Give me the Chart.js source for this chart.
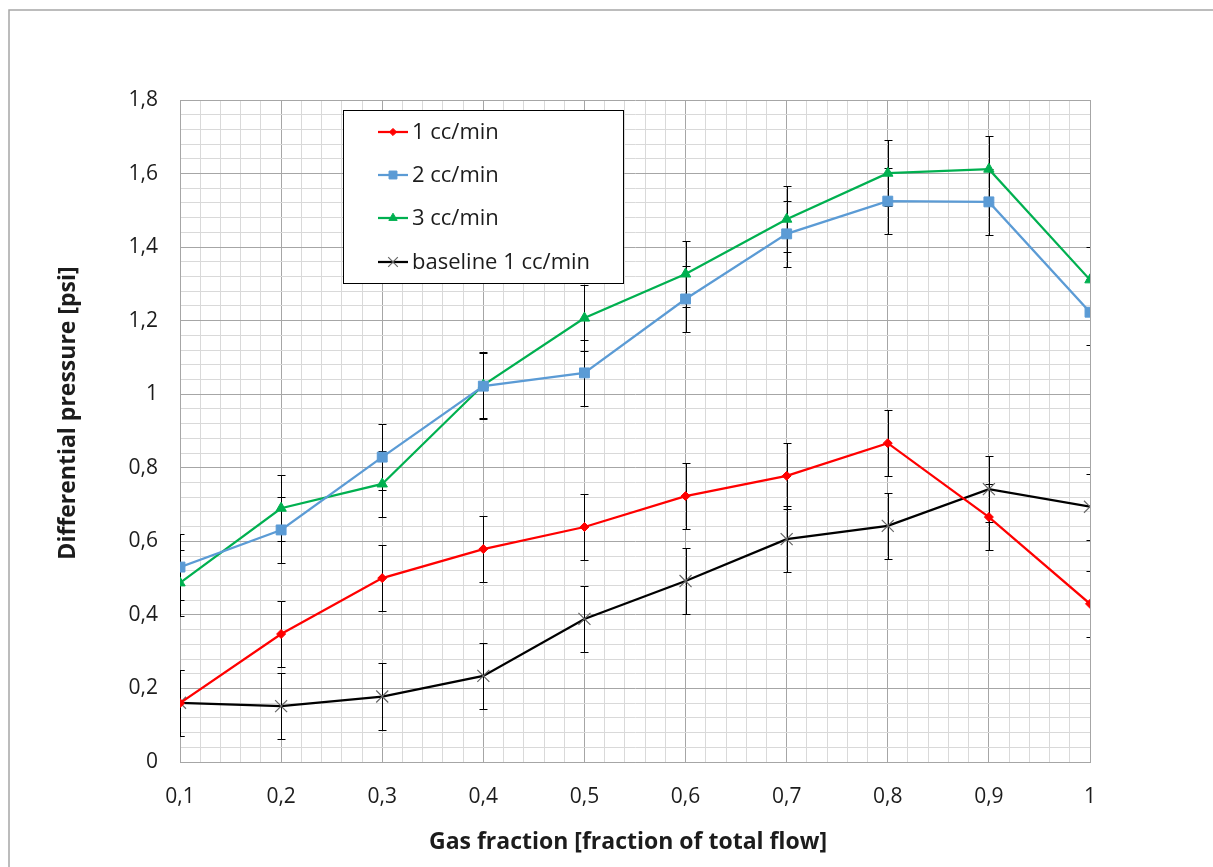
<!DOCTYPE html>
<html>
<head>
<meta charset="utf-8">
<script src="https://cdn.jsdelivr.net/npm/chart.js@4.4.1/dist/chart.umd.min.js"></script>
<style>
  html, body { margin: 0; padding: 0; background: #ffffff; }
  #wrap { width: 1213px; height: 867px; position: relative; }
</style>
</head>
<body>
<div id="wrap"><canvas id="c" width="1213" height="867"></canvas></div>
<script>
// ---- data ----
const gasFraction = [0.1, 0.2, 0.3, 0.4, 0.5, 0.6, 0.7, 0.8, 0.9, 1.0];
const seriesNames = ['1 cc/min', '2 cc/min', '3 cc/min', 'baseline 1 cc/min'];
const flow1 = [0.160, 0.348, 0.500, 0.579, 0.639, 0.723, 0.778, 0.867, 0.666, 0.430];
const flow2 = [0.530, 0.631, 0.829, 1.022, 1.058, 1.259, 1.436, 1.525, 1.523, 1.223];
const flow3 = [0.487, 0.690, 0.756, 1.025, 1.207, 1.327, 1.476, 1.601, 1.612, 1.311];
const baseline1 = [0.161, 0.152, 0.178, 0.234, 0.389, 0.492, 0.606, 0.642, 0.742, 0.694];
const err1 = [0.09, 0.09, 0.09, 0.09, 0.09, 0.09, 0.09, 0.09, 0.09, 0.09];
const err2 = [0.09, 0.09, 0.09, 0.09, 0.09, 0.09, 0.09, 0.09, 0.09, 0.09];
const err3 = [0.09, 0.09, 0.09, 0.09, 0.09, 0.09, 0.09, 0.09, 0.09, 0.09];
const errBase = [0.09, 0.09, 0.09, 0.09, 0.09, 0.09, 0.09, 0.09, 0.09, 0.09];
const xTickLabels = ['0,1', '0,2', '0,3', '0,4', '0,5', '0,6', '0,7', '0,8', '0,9', '1'];
const yTickLabels = ['0', '0,2', '0,4', '0,6', '0,8', '1', '1,2', '1,4', '1,6', '1,8'];
const xTitle = 'Gas fraction [fraction of total flow]';
const yTitle = 'Differential pressure [psi]';

const FONT = '"Open Sans", Lato, sans-serif';
const TEXT = '#1c1c1c';

function pts(ys) { return gasFraction.map((x, i) => ({ x: x, y: ys[i] })); }

const datasets = [
  { label: seriesNames[0], data: pts(flow1), errs: err1, borderColor: '#ff0000', backgroundColor: '#ff0000',
    pointStyle: 'rectRot', pointRadius: 4.5, pointBorderColor: '#ff0000', pointBackgroundColor: '#ff0000' },
  { label: seriesNames[1], data: pts(flow2), errs: err2, borderColor: '#5b9bd5', backgroundColor: '#5b9bd5',
    pointStyle: 'rect', pointRadius: 7, pointBorderColor: '#5b9bd5', pointBackgroundColor: '#5b9bd5' },
  { label: seriesNames[2], data: pts(flow3), errs: err3, borderColor: '#00b050', backgroundColor: '#00b050',
    pointStyle: 'triangle', pointRadius: 6, pointBorderColor: '#00b050', pointBackgroundColor: '#00b050' },
  { label: seriesNames[3], data: pts(baseline1), errs: errBase, borderColor: '#000000', backgroundColor: '#000000',
    pointStyle: 'crossRot', pointRadius: 8.5, pointBorderColor: '#666666', pointBackgroundColor: '#666666', pointBorderWidth: 1.2 }
];
datasets.forEach(d => { d.borderWidth = 2.25; d.tension = 0; d.fill = false; if (!d.pointBorderWidth) d.pointBorderWidth = 1; });

function isMultiple(v, step) { const q = v / step; return Math.abs(q - Math.round(q)) < 1e-6; }

const errorBars = {
  id: 'errorBars',
  beforeDatasetsDraw(chart) {
    const { ctx, chartArea: a, scales: { x, y } } = chart;
    ctx.save();
    ctx.beginPath();
    ctx.rect(a.left, a.top, a.right - a.left, a.bottom - a.top);
    ctx.clip();
    ctx.strokeStyle = '#000000';
    ctx.lineWidth = 1;
    chart.data.datasets.forEach(ds => {
      ds.data.forEach((p, i) => {
        const e = ds.errs[i];
        const px = Math.round(x.getPixelForValue(p.x)) + 0.5;
        const yt = Math.round(y.getPixelForValue(p.y + e)) + 0.5;
        const yb = Math.round(y.getPixelForValue(p.y - e)) + 0.5;
        ctx.beginPath();
        ctx.moveTo(px, yt); ctx.lineTo(px, yb);
        ctx.moveTo(px - 4, yt); ctx.lineTo(px + 4, yt);
        ctx.moveTo(px - 4, yb); ctx.lineTo(px + 4, yb);
        ctx.stroke();
      });
    });
    ctx.restore();
  }
};

const frameAndText = {
  id: 'frameAndText',
  beforeDraw(chart) {
    const ctx = chart.ctx;
    ctx.save();
    ctx.fillStyle = '#ffffff';
    ctx.fillRect(0, 0, chart.width, chart.height);
    ctx.strokeStyle = '#a6a6a6';
    ctx.lineWidth = 1.5;
    ctx.beginPath();
    ctx.moveTo(9, chart.height); ctx.lineTo(9, 10); ctx.lineTo(chart.width, 10);
    ctx.stroke();
    ctx.restore();
  },
  afterDraw(chart) {
    const { ctx } = chart;
    ctx.save();
    ctx.fillStyle = TEXT;
    ctx.font = 'bold 23px ' + FONT;
    ctx.textAlign = 'center';
    ctx.textBaseline = 'middle';
    ctx.fillText(xTitle, 628, 842);
    ctx.translate(68, 413);
    ctx.rotate(-Math.PI / 2);
    ctx.fillText(yTitle, 0, 0);
    ctx.restore();

    // legend box
    const bx = 343.5, by = 110.5, bw = 280, bh = 173;
    ctx.save();
    ctx.fillStyle = '#ffffff';
    ctx.fillRect(bx, by, bw, bh);
    ctx.strokeStyle = '#000000';
    ctx.lineWidth = 1;
    ctx.strokeRect(bx, by, bw, bh);
    const rows = [132, 175, 218, 262];
    chart.data.datasets.forEach((ds, i) => {
      const yy = rows[i];
      ctx.strokeStyle = ds.borderColor;
      ctx.lineWidth = 2.25;
      ctx.beginPath(); ctx.moveTo(378, yy); ctx.lineTo(408, yy); ctx.stroke();
      ctx.fillStyle = ds.pointBackgroundColor;
      ctx.strokeStyle = ds.pointBorderColor;
      ctx.lineWidth = ds.pointBorderWidth;
      Chart.helpers.drawPoint(ctx, {
        pointStyle: ds.pointStyle, radius: ds.pointRadius * 0.8, rotation: 0,
        borderWidth: ds.pointBorderWidth
      }, 393, yy);
      ctx.fillStyle = TEXT;
      ctx.font = '22px ' + FONT;
      ctx.textAlign = 'left';
      ctx.textBaseline = 'middle';
      ctx.fillText(ds.label, 412, yy + 1);
    });
    ctx.restore();
  }
};

new Chart(document.getElementById('c'), {
  type: 'line',
  data: { datasets: datasets },
  plugins: [frameAndText, errorBars],
  options: {
    responsive: false,
    animation: false,
    devicePixelRatio: 1,
    layout: { padding: { left: 0, top: 100, right: 123, bottom: 0 } },
    plugins: { legend: { display: false }, title: { display: false }, tooltip: { enabled: false } },
    scales: {
      x: {
        type: 'linear', min: 0.1, max: 1.0,
        afterFit(s) { s.height = 105; },
        border: { display: true, color: '#a6a6a6', width: 1 },
        grid: {
          drawTicks: false,
          color: c => isMultiple(c.tick.value, 0.1) ? '#a6a6a6' : '#d9d9d9',
          lineWidth: 1
        },
        ticks: {
          stepSize: 0.02, maxTicksLimit: 1000, autoSkip: false, maxRotation: 0,
          padding: 22, color: TEXT, font: { family: FONT, size: 21 },
          callback: v => isMultiple(v, 0.1) ? xTickLabels[Math.round(v * 10) - 1] : ''
        }
      },
      y: {
        type: 'linear', min: 0, max: 1.8,
        afterFit(s) { s.width = 180; },
        border: { display: true, color: '#a6a6a6', width: 1 },
        grid: {
          drawTicks: false,
          color: c => isMultiple(c.tick.value, 0.2) ? '#a6a6a6' : '#d9d9d9',
          lineWidth: 1
        },
        ticks: {
          stepSize: 0.04, maxTicksLimit: 1000, autoSkip: false,
          padding: 22, color: TEXT, font: { family: FONT, size: 21 },
          callback: v => isMultiple(v, 0.2) ? yTickLabels[Math.round(v * 5)] : ''
        }
      }
    }
  }
});
</script>
</body>
</html>
